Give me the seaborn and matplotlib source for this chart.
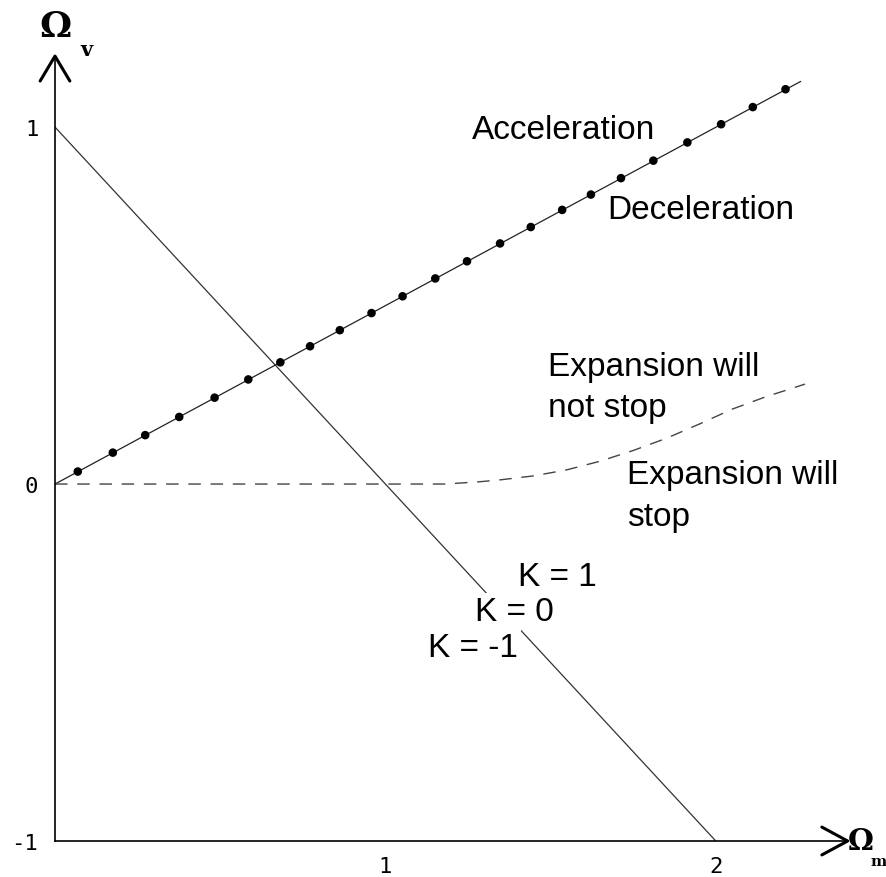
import matplotlib.pyplot as plt
import seaborn as sns

# K = 0 (flat universe) line
flat_m = [0.0, 2.0]
flat_v = [1.0, -1.0]

# acceleration / deceleration boundary with its dots
accel_m = [0.0, 2.257]
accel_v = [0.0, 1.128]
dot_m = [0.069, 0.175, 0.273, 0.376, 0.483, 0.585, 0.682, 0.772, 0.862, 0.958, 1.052, 1.151,
         1.247, 1.347, 1.440, 1.535, 1.622, 1.713, 1.811, 1.914, 2.016, 2.112, 2.211]
dot_v = [0.035, 0.088, 0.137, 0.188, 0.242, 0.293, 0.341, 0.386, 0.431, 0.479, 0.526, 0.576,
         0.624, 0.674, 0.720, 0.768, 0.811, 0.857, 0.906, 0.957, 1.008, 1.056, 1.106]

# expansion will / will not stop boundary
stop_m = [0.0, 1.18, 1.28, 1.35, 1.45, 1.55, 1.65, 1.75, 1.85, 1.95, 2.05, 2.15, 2.27]
stop_v = [0.0, 0.0, 0.006, 0.012, 0.023, 0.040, 0.064, 0.094, 0.128, 0.168, 0.210, 0.244, 0.280]

x_ticks = [1, 2]
y_ticks = [-1, 0, 1]

sns.set_style('white')
fig = plt.figure(figsize=(8.87, 8.78), dpi=100)
ax = fig.add_axes([55 / 887, 36 / 878, 826 / 887, 821 / 878])

sns.lineplot(x=flat_m, y=flat_v, color='#333333', lw=0.9, sort=False, estimator=None, ax=ax)
sns.lineplot(x=accel_m, y=accel_v, color='#222222', lw=0.9, sort=False, estimator=None, ax=ax)
sns.scatterplot(x=dot_m, y=dot_v, s=38, color='black', edgecolor='none', ax=ax, zorder=3)
sns.lineplot(x=stop_m, y=stop_v, color='#444444', lw=1.0, linestyle=(0, (9, 7)),
             sort=False, estimator=None, ax=ax)

ax.set_xlim(0, 2.5)
ax.set_ylim(-1, 1.3)
ax.spines['top'].set_visible(False)
ax.spines['right'].set_visible(False)
for s in ['left', 'bottom']:
    ax.spines[s].set_color('black')
    ax.spines[s].set_linewidth(1.2)
ax.spines['left'].set_bounds(-1, 1.199)
ax.spines['bottom'].set_bounds(0, 2.399)

# arrow heads
ax.plot([-0.045, 0, 0.045], [1.129, 1.199, 1.129], color='black', lw=2.2, clip_on=False)
ax.plot([2.321, 2.399, 2.321], [-0.961, -1.0, -1.039], color='black', lw=2.2, clip_on=False)

ax.set_xticks(x_ticks)
ax.set_xticklabels([str(t) for t in x_ticks])
ax.set_yticks(y_ticks)
ax.set_yticklabels([str(t) for t in y_ticks])
ax.tick_params(axis='x', direction='in', length=5, width=1, pad=11, colors='black')
ax.tick_params(axis='y', direction='in', length=0, pad=12, colors='black')
for lab in ax.get_xticklabels() + ax.get_yticklabels():
    lab.set_fontfamily('DejaVu Sans Mono')
    lab.set_fontsize(16)

# axis labels
fig.text(55 / 887, 1 - 27 / 878, 'Ω', fontsize=26, fontweight='bold', family='DejaVu Serif',
         ha='center', va='center', color='black')
fig.text(86 / 887, 1 - 50 / 878, 'v', fontsize=15, fontweight='bold', family='DejaVu Serif',
         ha='center', va='center', color='black')
fig.text(861 / 887, 1 - 842 / 878, 'Ω', fontsize=21, fontweight='bold', family='DejaVu Serif',
         ha='center', va='center', color='black')
fig.text(879 / 887, 1 - 862 / 878, 'm', fontsize=11, fontweight='bold', family='DejaVu Serif',
         ha='center', va='center', color='black')

txt = dict(fontsize=24, family='Liberation Sans', ha='left', va='center', color='black')
ax.text(1.262, 0.992, 'Acceleration', **txt)
ax.text(1.670, 0.770, 'Deceleration', **txt)
ax.text(1.492, 0.272, 'Expansion will\nnot stop', linespacing=1.45, **txt)
ax.text(1.731, -0.031, 'Expansion will\nstop', linespacing=1.45, **txt)
box = dict(facecolor='white', edgecolor='none', pad=2)
ax.text(1.401, -0.258, 'K = 1', bbox=box, **txt)
ax.text(1.271, -0.356, 'K = 0', bbox=box, **txt)
ax.text(1.129, -0.457, 'K = -1', bbox=box, **txt)

plt.savefig('out.png', dpi=100)
